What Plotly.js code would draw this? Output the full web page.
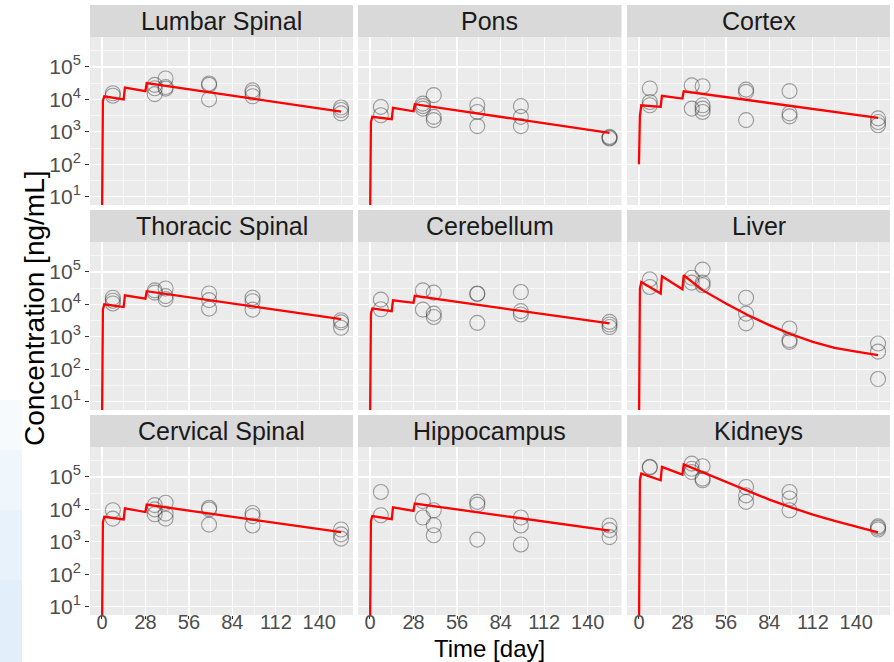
<!DOCTYPE html>
<html>
<head>
<meta charset="utf-8">
<script src="https://cdn.plot.ly/plotly-3.0.1.min.js"></script>
<style>html,body{margin:0;padding:0;background:#fff;}#chart{width:894px;height:662px;}</style>
</head>
<body>
<div id="chart"></div>
<script>
// ---------- DATA ----------
const panelNames = ["Lumbar Spinal", "Pons", "Cortex",
                    "Thoracic Spinal", "Cerebellum", "Liver",
                    "Cervical Spinal", "Hippocampus", "Kidneys"];

const xTickVals = [0, 28, 56, 84, 112, 140];
const yTickVals = [10, 100, 1000, 10000, 100000];
const yTickText = ["10<sup>1</sup>", "10<sup>2</sup>", "10<sup>3</sup>", "10<sup>4</sup>", "10<sup>5</sup>"];

// model (red line) time grids
const predTimeBrain = [0, 0.6, 1.5, 14, 14.8, 28, 28.8, 154];
const predTimeOrgan = [0, 0.6, 1.5, 14, 14.8, 28, 28.8, 41, 56, 70, 84, 98, 112, 126, 140, 154];

// Lumbar Spinal
const lumbarObsT = [7, 7, 34, 34, 34, 41, 41, 41, 69, 69, 69, 97, 97, 97, 154, 154, 154];
const lumbarObsC = [15500, 13000, 28000, 22000, 14500, 44000, 24000, 21500, 31000, 28000, 10000, 19000, 16000, 12500, 5600, 4700, 3700];
const lumbarPredC = [1, 9000, 12500, 10000, 23000, 18000, 32000, 4200];

// Pons
const ponsObsT = [7, 7, 34, 34, 34, 41, 41, 41, 69, 69, 69, 97, 97, 97, 154, 154, 154];
const ponsObsC = [5900, 3250, 7400, 5200, 6200, 13500, 2900, 2300, 6600, 4100, 1500, 6200, 2900, 1500, 700, 620, 660];
const ponsPredC = [1, 2000, 2900, 2450, 5500, 4300, 7100, 930];

// Cortex
const cortexObsT = [7, 7, 7, 34, 34, 41, 41, 41, 41, 69, 69, 69, 97, 97, 97, 154, 154, 154];
const cortexObsC = [21700, 8300, 6600, 27000, 5200, 25500, 6600, 4100, 5200, 20000, 17000, 2300, 18000, 3700, 3000, 2600, 2000, 1600];
const cortexPredC = [100, 3000, 6600, 5900, 12900, 10600, 17800, 2700];

// Thoracic Spinal
const thoracicObsT = [7, 7, 7, 34, 34, 41, 41, 41, 69, 69, 69, 97, 97, 97, 154, 154, 154];
const thoracicObsC = [16000, 10700, 13000, 27000, 23000, 31000, 18000, 14500, 21700, 13500, 7400, 16000, 12500, 6900, 3250, 1900, 2800];
const thoracicPredC = [1, 7000, 10000, 8300, 19000, 15000, 25500, 3500];

// Cerebellum
const cerebellumObsT = [7, 7, 34, 34, 41, 41, 41, 69, 69, 69, 97, 97, 97, 154, 154, 154];
const cerebellumObsC = [14000, 7100, 27000, 6900, 23000, 5200, 4100, 21700, 21000, 2700, 24000, 6200, 4900, 2900, 2400, 2000];
const cerebellumPredC = [1, 5200, 7500, 6200, 13400, 11200, 18300, 2600];

// Liver
const liverObsT = [7, 7, 34, 34, 41, 41, 41, 69, 69, 69, 97, 97, 97, 154, 154, 154];
const liverObsC = [59000, 34500, 66000, 47000, 118000, 47000, 39000, 16000, 5200, 2600, 1800, 800, 700, 620, 350, 50];
const liverPredC = [1, 30000, 49000, 21700, 73500, 29300, 79000, 27500, 10700, 4700, 2300, 1200, 700, 460, 350, 275];

// Cervical Spinal
const cervicalObsT = [7, 7, 34, 34, 34, 41, 41, 41, 69, 69, 69, 97, 97, 97, 154, 154, 154];
const cervicalObsC = [9400, 5200, 13500, 10000, 7100, 16000, 7400, 5200, 11200, 10000, 3400, 7700, 6200, 3200, 2400, 1700, 1260];
const cervicalPredC = [1, 4000, 5900, 4900, 10700, 8300, 14000, 2000];

// Hippocampus
const hippoObsT = [7, 7, 34, 34, 41, 41, 41, 69, 69, 69, 97, 97, 97, 154, 154, 154];
const hippoObsC = [34500, 6600, 18000, 5600, 9400, 3250, 1600, 17000, 14000, 1170, 5600, 3200, 830, 3200, 2300, 1400];
const hippoPredC = [1, 4300, 6200, 5000, 11500, 9000, 15200, 2200];

// Kidneys
const kidneyObsT = [7, 7, 34, 34, 34, 41, 41, 41, 69, 69, 69, 97, 97, 97, 154, 154, 154];
const kidneyObsC = [204000, 195000, 257000, 178000, 142000, 213000, 89000, 79000, 49000, 27000, 17000, 34500, 21700, 9400, 3000, 2400, 2700];
const kidneyPredC = [1, 80000, 127000, 79000, 204000, 118000, 245000, 141000, 71000, 36000, 20000, 11500, 6900, 4400, 2900, 1950];

// ---------- BUILD ----------
const panelData = [
  [lumbarObsT, lumbarObsC, predTimeBrain, lumbarPredC],
  [ponsObsT, ponsObsC, predTimeBrain, ponsPredC],
  [cortexObsT, cortexObsC, predTimeBrain, cortexPredC],
  [thoracicObsT, thoracicObsC, predTimeBrain, thoracicPredC],
  [cerebellumObsT, cerebellumObsC, predTimeBrain, cerebellumPredC],
  [liverObsT, liverObsC, predTimeOrgan, liverPredC],
  [cervicalObsT, cervicalObsC, predTimeBrain, cervicalPredC],
  [hippoObsT, hippoObsC, predTimeBrain, hippoPredC],
  [kidneyObsT, kidneyObsC, predTimeOrgan, kidneyPredC]
];

const W = 894, H = 662;
const colPx = [[90, 353], [358, 621.5], [627, 890]];
const rowPx = [[37, 205], [242, 410], [447, 615]];   // plot area (top, bottom)
const stripPx = [[5, 37], [210, 242], [415, 447]];
const FONT = "Liberation Sans, Arial, Helvetica, sans-serif";

const traces = [];
const layout = {
  width: W, height: H,
  margin: {l: 0, r: 0, t: 0, b: 0},
  paper_bgcolor: "#ffffff",
  plot_bgcolor: "#EBEBEB",
  showlegend: false,
  font: {family: FONT},
  shapes: [],
  annotations: []
};

// faint light-blue backdrop fading in at the lower left edge of the slide
[[400, 450, 0.18], [450, 510, 0.32], [510, 580, 0.45], [580, 662, 0.58]].forEach(b => {
  layout.shapes.push({type: "rect", xref: "paper", yref: "paper", layer: "below",
    x0: 0, x1: 22 / W, y0: 1 - b[1] / H, y1: 1 - b[0] / H, line: {width: 0},
    fillcolor: "rgba(205,226,246," + b[2] + ")"});
});

const minorY = [1.5, 2.5, 3.5, 4.5, 5.5].map(p => Math.pow(10, p));

panelData.forEach((pd, i) => {
  const r = Math.floor(i / 3), c = i % 3;
  const sfx = i === 0 ? "" : String(i + 1);
  const xa = "x" + sfx, ya = "y" + sfx;

  traces.push({
    type: "scatter", mode: "markers", x: pd[0], y: pd[1], xaxis: xa, yaxis: ya,
    marker: {symbol: "circle-open", size: 15, color: "rgba(40,40,40,0.42)", line: {width: 1.1}},
    hoverinfo: "x+y", cliponaxis: false
  });
  traces.push({
    type: "scatter", mode: "lines", x: pd[2], y: pd[3], xaxis: xa, yaxis: ya,
    line: {color: "#FF0000", width: 2.3}, hoverinfo: "x+y"
  });

  const bottomRow = r === 2, leftCol = c === 0;
  layout["xaxis" + sfx] = {
    domain: [colPx[c][0] / W, colPx[c][1] / W],
    anchor: ya, range: [-7.7, 161.7],
    tickmode: "array", tickvals: xTickVals,
    showticklabels: bottomRow,
    ticks: bottomRow ? "outside" : "", ticklen: 3, tickwidth: 1, tickcolor: "#333333",
    ticklabelstandoff: -14,
    tickfont: {size: 20, color: "#4D4D4D", family: FONT},
    showgrid: true, gridcolor: "#FFFFFF", gridwidth: 1.2,
    minor: {tickmode: "array", tickvals: [14, 42, 70, 98, 126, 154], showgrid: true, gridcolor: "#FFFFFF", gridwidth: 0.6, ticks: ""},
    zeroline: false, showline: false, fixedrange: true
  };
  layout["yaxis" + sfx] = {
    domain: [1 - rowPx[r][1] / H, 1 - rowPx[r][0] / H],
    anchor: xa, type: "log", range: [0.745, 5.923],
    tickmode: "array", tickvals: yTickVals, ticktext: yTickText,
    showticklabels: leftCol,
    ticks: leftCol ? "outside" : "", ticklen: 4, tickwidth: 1, tickcolor: "#333333",
    tickfont: {size: 21, color: "#4D4D4D", family: FONT},
    showgrid: true, gridcolor: "#FFFFFF", gridwidth: 1.2,
    minor: {tickmode: "array", tickvals: minorY, showgrid: true, gridcolor: "#FFFFFF", gridwidth: 0.6, ticks: ""},
    zeroline: false, showline: false, fixedrange: true
  };

  // facet strip
  layout.shapes.push({type: "rect", xref: "paper", yref: "paper", layer: "below",
    x0: colPx[c][0] / W, x1: colPx[c][1] / W,
    y0: 1 - stripPx[r][1] / H, y1: 1 - stripPx[r][0] / H,
    line: {width: 0}, fillcolor: "#D9D9D9"});
  layout.annotations.push({xref: "paper", yref: "paper",
    x: (colPx[c][0] + colPx[c][1]) / 2 / W, y: 1 - (stripPx[r][0] + stripPx[r][1]) / 2 / H,
    xanchor: "center", yanchor: "middle", showarrow: false,
    text: panelNames[i], font: {size: 25, color: "#1A1A1A", family: FONT}});
});

// axis titles
layout.annotations.push({xref: "paper", yref: "paper", x: 490 / W, y: 1 - 648 / H,
  xanchor: "center", yanchor: "middle", showarrow: false,
  text: "Time [day]", font: {size: 24, color: "#000000", family: FONT}});
layout.annotations.push({xref: "paper", yref: "paper", x: 34 / W, y: 1 - 308 / H,
  xanchor: "center", yanchor: "middle", showarrow: false, textangle: -90,
  text: "Concentration [ng/mL]", font: {size: 28, color: "#000000", family: FONT}});

Plotly.newPlot("chart", traces, layout, {displayModeBar: false, staticPlot: true});
</script>
</body>
</html>
